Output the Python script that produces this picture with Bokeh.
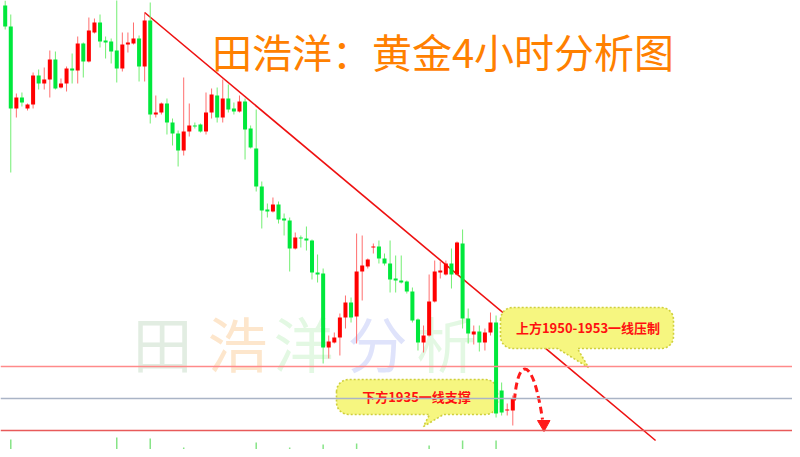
import numpy as np
from bokeh.plotting import figure
from bokeh.models import Range1d, Span, ColumnDataSource
from bokeh.core.properties import value
from bokeh.embed import file_html
from bokeh.resources import INLINE

# ---------------- data (gold, 4H candles) ----------------
candle_idx = list(range(1, 93))
opens = [2041.25, 2036.0, 2015.5, 2018.25, 2015.5, 2016.5, 2023.75, 2021.75, 2022.75, 2027.75,
         2020.75, 2021.75, 2025.5, 2025.0, 2031.75, 2027.25, 2034.5, 2037.0, 2032.5, 2032.25,
         2030.0, 2025.5, 2031.5, 2031.75, 2033.0, 2026.0, 2037.5, 2014.0, 2014.5, 2016.75,
         2012.0, 2009.25, 2005.0, 2009.75, 2011.25, 2011.5, 2009.75, 2014.5, 2018.75, 2013.25,
         2018.0, 2015.5, 2014.75, 2017.25, 2010.5, 2005.5, 1996.0, 1990.25, 1989.75, 1991.5,
         1988.0, 1987.5, 1980.5, 1983.25, 1983.0, 1982.5, 1974.5, 1974.25, 1955.75, 1957.0,
         1958.25, 1963.25, 1967.0, 1963.5, 1974.75, 1976.0, 1980.75, 1981.0, 1978.0, 1976.75,
         1973.0, 1972.5, 1972.25, 1969.75, 1962.75, 1957.0, 1958.75, 1967.25, 1974.5, 1974.0,
         1976.75, 1974.0, 1981.75, 1963.0, 1959.0, 1959.75, 1957.0, 1959.5, 1962.0, 1945.0,
         1940.0, 1940.0]
highs = [2042.5, 2039.0, 2019.25, 2019.5, 2016.75, 2024.5, 2025.25, 2025.75, 2030.0, 2029.75,
         2023.0, 2026.0, 2029.25, 2033.5, 2032.0, 2038.25, 2038.0, 2039.0, 2033.5, 2033.0,
         2043.75, 2034.5, 2034.5, 2037.0, 2033.75, 2039.5, 2042.0, 2018.75, 2017.0, 2018.0,
         2013.0, 2010.0, 2023.25, 2016.75, 2012.0, 2011.75, 2019.5, 2020.5, 2020.75, 2022.75,
         2021.5, 2017.0, 2018.75, 2018.0, 2011.25, 2015.25, 1997.25, 1991.75, 1993.25, 1992.25,
         1989.25, 1988.25, 1984.5, 1983.75, 1986.0, 1982.75, 1979.0, 1975.5, 1958.75, 1959.5,
         1964.25, 1968.75, 1968.25, 1984.25, 1983.75, 1978.0, 1981.75, 1982.5, 1979.25, 1982.5,
         1978.75, 1978.75, 1972.5, 1970.75, 1963.0, 1961.25, 1974.0, 1977.5, 1977.25, 1977.5,
         1980.5, 1982.25, 1985.25, 1965.5, 1961.25, 1961.25, 1960.5, 1964.5, 1963.75, 1947.0,
         1941.75, 1943.75]
lows = [2035.25, 1999.5, 2013.25, 2016.0, 2015.0, 2015.5, 2020.25, 2020.25, 2018.25, 2020.25,
        2020.5, 2019.75, 2021.75, 2021.75, 2023.25, 2027.0, 2034.25, 2030.75, 2028.0, 2026.75,
        2022.0, 2024.75, 2029.5, 2031.5, 2022.25, 2022.25, 2011.75, 2013.25, 2014.0, 2009.0,
        2006.25, 2001.0, 2003.75, 2008.5, 2010.5, 2009.5, 2009.0, 2013.0, 2012.0, 2012.0,
        2014.5, 2014.0, 2014.5, 2002.75, 2005.5, 1994.75, 1985.5, 1988.25, 1989.5, 1986.75,
        1983.75, 1974.75, 1980.25, 1980.75, 1980.0, 1972.75, 1972.0, 1951.75, 1953.0, 1956.75,
        1953.75, 1960.5, 1962.0, 1956.75, 1967.5, 1975.5, 1979.25, 1976.75, 1976.25, 1969.5,
        1969.5, 1971.75, 1969.25, 1962.0, 1955.0, 1954.5, 1958.5, 1967.0, 1973.0, 1973.75,
        1970.5, 1973.75, 1960.5, 1956.75, 1956.5, 1954.75, 1955.0, 1958.75, 1938.25, 1938.75,
        1938.75, 1936.25]
closes = [2036.0, 2015.5, 2018.25, 2017.0, 2016.5, 2023.75, 2021.75, 2022.75, 2027.75, 2020.5,
          2021.75, 2025.5, 2025.0, 2031.75, 2027.25, 2035.0, 2037.0, 2032.25, 2032.0, 2029.75,
          2025.5, 2031.5, 2032.0, 2033.0, 2026.0, 2037.5, 2014.0, 2014.5, 2016.75, 2012.0,
          2009.25, 2005.0, 2009.75, 2011.25, 2011.0, 2009.75, 2014.5, 2019.0, 2013.25, 2018.0,
          2015.25, 2014.75, 2017.25, 2010.25, 2005.75, 1996.0, 1990.0, 1989.75, 1991.5, 1987.75,
          1987.5, 1980.5, 1983.25, 1983.0, 1982.5, 1974.5, 1974.0, 1955.75, 1957.25, 1958.25,
          1963.25, 1967.0, 1963.25, 1974.75, 1976.25, 1977.75, 1981.0, 1978.0, 1976.75, 1972.75,
          1972.5, 1972.0, 1969.75, 1962.5, 1957.0, 1958.75, 1967.25, 1974.75, 1975.0, 1976.75,
          1974.0, 1982.0, 1963.0, 1959.25, 1959.75, 1957.0, 1959.5, 1962.0, 1939.25, 1939.5,
          1940.25, 1943.0]

# lower pane marks (tops only visible)
mark_idx = [2, 9, 15, 21, 27, 33, 40, 46, 52, 58, 64, 71, 77, 83, 89]
mark_top = [1932.75, 1929.0, 1928.75, 1933.25, 1933.0, 1930.75, 1928.75, 1932.0,
            1930.75, 1931.5, 1931.75, 1929.75, 1931.25, 1932.5, 1932.5]

# key levels & trend line
resistance = 1951.0
middle = 1943.0
support = 1935.0
trend_x = [26, 117.6]
trend_y = [2039.5, 1932.5]

title_text = "田浩洋：黄金4小时分析图"
watermark_chars = ["田", "浩", "洋", "分", "析"]
label_up = "上方1950-1953一线压制"
label_down = "下方1935一线支撑"

# ---------------- layout helpers (window pixel -> data) ----------------
STEP = 5.578
def PX(X):
    return 1 + (X - 4.7) / STEP
def PY(Y):
    return 2042.5 - Y / 4.0

p = figure(width=792, height=449,
           x_range=Range1d(PX(0), PX(792)), y_range=Range1d(PY(449), PY(0)),
           output_backend="svg", toolbar_location=None,
           x_axis_location=None, y_axis_location=None,
           min_border=0, outline_line_color=None,
           background_fill_color="white", border_fill_color="white")
p.xgrid.visible = False
p.ygrid.visible = False
p.grid.grid_line_color = None

CJK = value("Noto Sans CJK SC")

# watermark
wm_x = [PX(v) for v in (162, 237, 303, 377, 446)]
wm_colors = ["#e2ede2", "#fde6cc", "#e3f8e3", "#dfe3fb", "#e3f8e3"]
p.text(x=wm_x, y=[PY(341)] * 5, text=watermark_chars, text_font=CJK,
       text_font_size="60px", text_color=wm_colors,
       text_align="center", text_baseline="middle")

# lower pane marks
p.segment(x0=mark_idx, y0=[1920] * len(mark_idx), x1=mark_idx, y1=mark_top,
          line_color="#86e486", line_width=1.5)

# trend line
p.line(trend_x, trend_y, line_color="#ee1111", line_width=1.6)

# horizontal levels
p.add_layout(Span(location=resistance, dimension="width", line_color="#ff8a8a", line_width=1.6))
p.add_layout(Span(location=middle, dimension="width", line_color="#aab4c6", line_width=1.6))
p.add_layout(Span(location=support, dimension="width", line_color="#e85a5a", line_width=1.6))

# callouts
def callout(x0, y0, x1, y1, r, base_a, base_b, tip):
    pts = []
    def arc(cx, cy, a0, a1):
        for t in np.linspace(a0, a1, 9):
            pts.append((cx + r * np.cos(t), cy + r * np.sin(t)))
    arc(x0 + r, y0 + r, np.pi, 1.5 * np.pi)
    arc(x1 - r, y0 + r, 1.5 * np.pi, 2 * np.pi)
    arc(x1 - r, y1 - r, 0, 0.5 * np.pi)
    pts.append((base_b, y1))
    pts.append(tip)
    pts.append((base_a, y1))
    arc(x0 + r, y1 - r, 0.5 * np.pi, np.pi)
    pts.append(pts[0])
    return [PX(a) for a, b in pts], [PY(b) for a, b in pts]

for box in [(500, 307, 673, 348, 12, 557, 577, (588, 367)),
            (336, 379, 497, 414, 12, 429, 443, (423, 426))]:
    xs, ys = callout(*box)
    p.patch(xs, ys, fill_color="#f6f680", line_color="#cfcf3c",
            line_width=1.6, line_dash="2 2")

# candles
up = [c > o for o, c in zip(opens, closes)]
src = ColumnDataSource(dict(
    x=candle_idx, high=highs, low=lows,
    top=[max(o, c) for o, c in zip(opens, closes)],
    bottom=[min(o, c) for o, c in zip(opens, closes)],
    body=["#ff0000" if u else "#00e83c" for u in up],
    wick=["#ff6e6e" if u else "#72ee72" for u in up],
))
p.segment(x0="x", y0="low", x1="x", y1="high", line_color="wick", line_width=1, source=src)
p.vbar(x="x", top="top", bottom="bottom", width=0.72, fill_color="body",
       line_color=None, source=src)

# dashed forecast arrow
p.bezier(x0=[PX(514)], y0=[PY(400)], x1=[PX(542)], y1=[PY(419)],
         cx0=[PX(517)], cy0=[PY(358)], cx1=[PX(532)], cy1=[PY(352)],
         line_color="#ff1a1a", line_width=3, line_dash="7 4")
p.patch([PX(537), PX(549.5), PX(543.5)], [PY(420), PY(420), PY(431)],
        fill_color="#ff1a1a", line_color="#ff1a1a")

# callout labels
p.text(x=[PX(587.5), PX(416)], y=[PY(327), PY(396)], text=[label_up, label_down],
       text_font=CJK, text_font_size="13px", text_font_style="bold",
       text_color="#ff1010", text_align="center", text_baseline="middle")

# title
p.text(x=[PX(442.5)], y=[PY(50)], text=[title_text], text_font=CJK,
       text_font_size="40px", text_color="#ff8000",
       text_align="center", text_baseline="middle")

open("out.html", "w").write(file_html(p, INLINE))
